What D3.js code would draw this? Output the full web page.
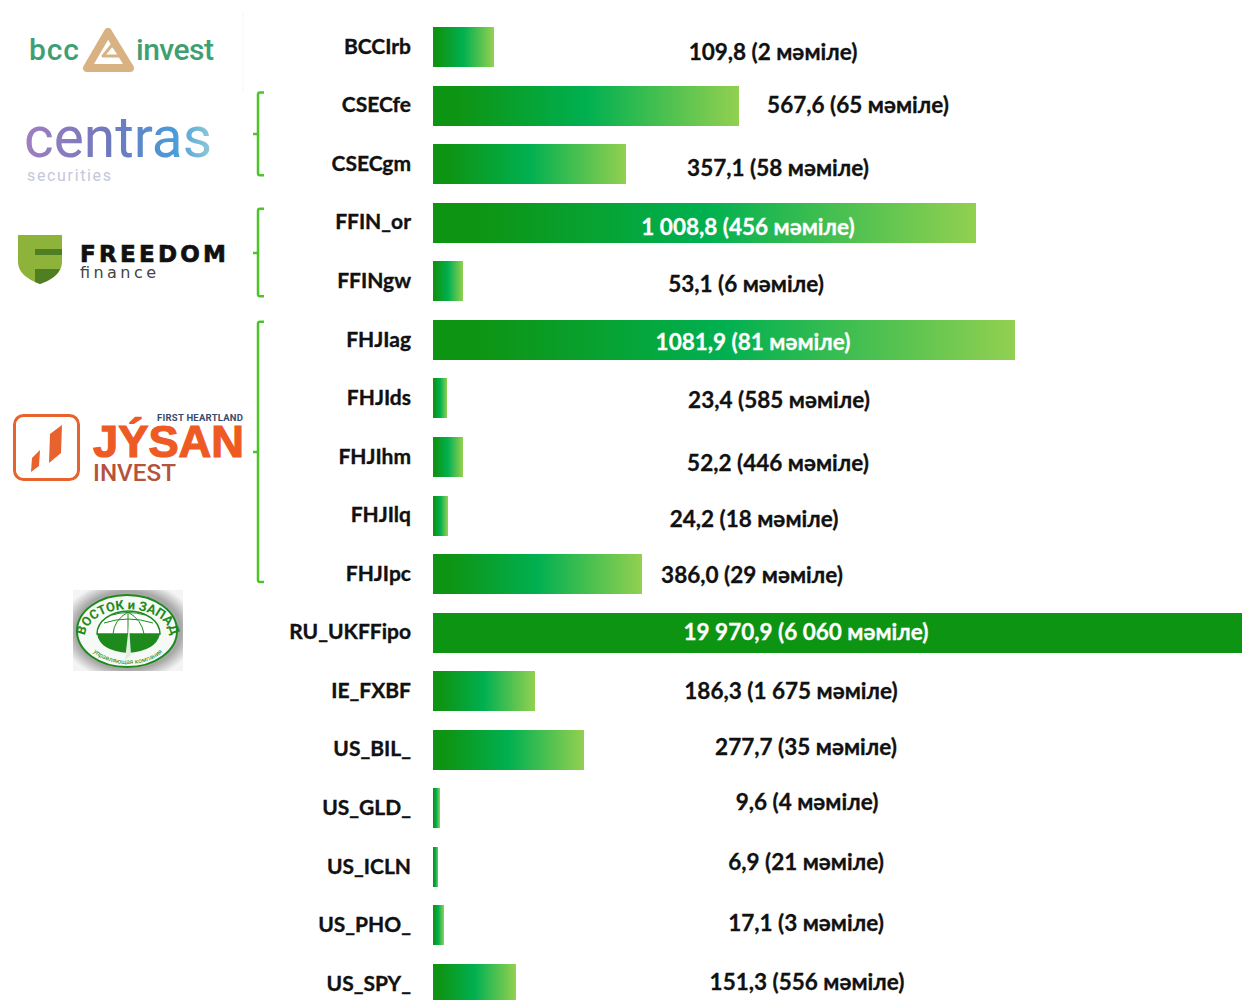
<!DOCTYPE html>
<html>
<head>
<meta charset="utf-8">
<script src="https://cdn.jsdelivr.net/npm/d3@7"></script>
<style>
  html, body { margin: 0; padding: 0; background: #fff; overflow: hidden; }
  text { font-family: Lato, "Noto Sans", sans-serif; }
</style>
</head>
<body>
<div id="chart"></div>
<script>
// Data
var tickers = ["BCCIrb", "CSECfe", "CSECgm", "FFIN_or", "FFINgw", "FHJIag", "FHJIds", "FHJIhm", "FHJIlq", "FHJIpc", "RU_UKFFipo", "IE_FXBF", "US_BIL_", "US_GLD_", "US_ICLN", "US_PHO_", "US_SPY_"];
var volumes = [109.8, 567.6, 357.1, 1008.8, 53.1, 1081.9, 23.4, 52.2, 24.2, 386.0, 19970.9, 186.3, 277.7, 9.6, 6.9, 17.1, 151.3];
var volumeLabels = ["109,8", "567,6", "357,1", "1 008,8", "53,1", "1081,9", "23,4", "52,2", "24,2", "386,0", "19 970,9", "186,3", "277,7", "9,6", "6,9", "17,1", "151,3"];
var deals = ["2", "65", "58", "456", "6", "81", "585", "446", "18", "29", "6 060", "1 675", "35", "4", "21", "3", "556"];

// the value labels were placed by hand in the original, so they do not follow the bars
var labelCentreX = [773, 858, 778, 748, 746, 753, 779, 778, 754, 752, 806, 791, 806, 807, 806, 806, 807];
var labelCentreY = [52, 105, 168, 227, 284, 342, 400, 463, 519, 575, 632, 691, 747, 802, 862, 923, 982];
var insideBar = ["FFIN_or", "FHJIag", "RU_UKFFipo"];

var width = 1243;
var height = 1000;

var svg = d3
  .select("#chart")
  .append("svg")
  .attr("width", width)
  .attr("height", height);

var defs = svg.append("defs");

// axis starts a little left of zero and stops near 1500, the big bar runs off the side of the plot
var x = d3.scaleLinear().domain([-3, 1505]).range([433, 1242]);
var y = d3
  .scaleBand()
  .domain(tickers)
  .range([27, 1004])
  .paddingInner(0.317);

defs
  .append("clipPath")
  .attr("id", "plot-clip")
  .append("rect")
  .attr("x", 433)
  .attr("y", 0)
  .attr("width", 809)
  .attr("height", height);

// one gradient per bar, stretched over the true length of that bar
volumes.forEach(function(v, i) {
  var g = defs
    .append("linearGradient")
    .attr("id", "bar-grad-" + i)
    .attr("gradientUnits", "userSpaceOnUse")
    .attr("x1", x.range()[0])
    .attr("x2", x(v))
    .attr("y1", 0)
    .attr("y2", 0);
  g.append("stop").attr("offset", "0%").attr("stop-color", "#0E9413");
  g.append("stop").attr("offset", "8%").attr("stop-color", "#0E9413");
  g.append("stop").attr("offset", "50%").attr("stop-color", "#00B050");
  g.append("stop").attr("offset", "100%").attr("stop-color", "#92D050");
});

svg
  .append("g")
  .attr("clip-path", "url(#plot-clip)")
  .selectAll("rect")
  .data(tickers)
  .enter()
  .append("rect")
  .attr("x", x.range()[0])
  .attr("y", function(d) {
    return Math.round(y(d));
  })
  .attr("width", function(d, i) {
    return Math.round(x(volumes[i]) - x.range()[0]);
  })
  .attr("height", 40)
  .attr("fill", function(d, i) {
    return "url(#bar-grad-" + i + ")";
  });

// category axis
var yAxis = svg
  .append("g")
  .attr("transform", "translate(422,0)")
  .call(d3.axisLeft(y).tickSize(0).tickPadding(11));
yAxis.select(".domain").remove();
yAxis
  .selectAll("text")
  .style("font-family", "Lato, 'Noto Sans', sans-serif")
  .style("font-size", "21px")
  .style("font-weight", "700")
  .attr("fill", "#111")
  .attr("stroke", "#111")
  .attr("stroke-width", 0.35);

// value labels
svg
  .append("g")
  .selectAll("text")
  .data(tickers)
  .enter()
  .append("text")
  .attr("x", function(d, i) {
    return labelCentreX[i];
  })
  .attr("y", function(d, i) {
    return labelCentreY[i];
  })
  .attr("dy", "0.35em")
  .attr("text-anchor", "middle")
  .attr("font-size", 22.5)
  .attr("font-weight", 700)
  .attr("stroke-width", 0.3)
  .attr("fill", function(d) {
    return insideBar.indexOf(d) >= 0 ? "#fff" : "#111";
  })
  .attr("stroke", function(d) {
    return insideBar.indexOf(d) >= 0 ? "#fff" : "#111";
  })
  .text(function(d, i) {
    return volumeLabels[i] + " (" + deals[i] + " мәміле)";
  });

// brackets that group tickers by broker
function bracket(first, last, topGap, bottomGap, mid) {
  var top = y(first) + topGap;
  var bottom = y(last) + 40 - bottomGap;
  svg
    .append("path")
    .attr("d", "M264," + top + "H260Q258," + top + " 258," + (top + 2) + "V" + (bottom - 2) + "Q258," + bottom + " 260," + bottom + "H264M253," + mid + "H258")
    .attr("fill", "none")
    .attr("stroke", "#4CC42A")
    .attr("stroke-width", 2.5);
}
bracket("CSECfe", "CSECgm", 7, 9, 134);
bracket("FFIN_or", "FFINgw", 6, 5, 253);
bracket("FHJIag", "FHJIpc", 2, 12, 452);

// logos, drawn by hand
var logos = svg.append("g");

// bcc invest
logos.append("line").attr("x1", 243).attr("x2", 243).attr("y1", 12).attr("y2", 92).attr("stroke", "#f6f6f6");
logos.append("text").attr("x", 29).attr("y", 60).attr("font-size", 30).attr("font-weight", 500).attr("fill", "#3F9F72").attr("textLength", 50).style("font-family", "Roboto").text("bcc");
logos.append("text").attr("x", 136).attr("y", 60).attr("font-size", 30).attr("font-weight", 500).attr("fill", "#3F9F72").attr("textLength", 78).style("font-family", "Roboto").text("invest");
logos.append("path").attr("d", "M108,32L87,68H130Z").attr("fill", "none").attr("stroke", "#D8B282").attr("stroke-width", 8).attr("stroke-linejoin", "round");
logos.append("path").attr("d", "M112,45L103,56H122Z").attr("fill", "none").attr("stroke", "#D8B282").attr("stroke-width", 3).attr("stroke-linejoin", "round");

// centras
var centrasGrad = defs.append("linearGradient").attr("id", "centras-grad");
centrasGrad.append("stop").attr("offset", "0%").attr("stop-color", "#A07FC0");
centrasGrad.append("stop").attr("offset", "45%").attr("stop-color", "#7078BC");
centrasGrad.append("stop").attr("offset", "80%").attr("stop-color", "#4A9BD8");
centrasGrad.append("stop").attr("offset", "100%").attr("stop-color", "#8FCBD8");
logos.append("text").attr("x", 24).attr("y", 157).attr("font-size", 58).attr("font-weight", 400).attr("fill", "url(#centras-grad)").attr("textLength", 188).attr("lengthAdjust", "spacingAndGlyphs").style("font-family", "Roboto").text("centras");
logos.append("text").attr("x", 27).attr("y", 181).attr("font-size", 16).attr("fill", "#C6C6DC").attr("textLength", 84).style("font-family", "Roboto").text("securities");

// freedom finance
logos.append("path").attr("d", "M18,235H62V262Q62,276 40,284Q18,276 18,262Z").attr("fill", "#8DB33A");
logos.append("path").attr("d", "M35,249H62V255H35Z").attr("fill", "#4F7F22");
logos.append("path").attr("d", "M35,269H60Q57,278 40,284L35,282Z").attr("fill", "#4F7F22");
logos.append("text").attr("x", 80).attr("y", 262).attr("font-size", 23).attr("font-weight", 700).attr("fill", "#111").attr("stroke", "#111").attr("stroke-width", 0.7).attr("textLength", 146).style("font-family", "DejaVu Sans").text("FREEDOM");
logos.append("text").attr("x", 80).attr("y", 278).attr("font-size", 16).attr("fill", "#444").attr("textLength", 76).style("font-family", "DejaVu Sans").text("finance");

// jysan invest
logos.append("rect").attr("x", 14.5).attr("y", 415.5).attr("width", 64).attr("height", 64).attr("rx", 9).attr("fill", "none").attr("stroke", "#E8622D").attr("stroke-width", 3);
logos.append("path").attr("d", "M32,458L40,450L39,466L31,472Z").attr("fill", "#E8622D");
logos.append("path").attr("d", "M50,434L62,425L61,453L49,463Z").attr("fill", "#E8622D");
logos.append("text").attr("x", 157).attr("y", 421).attr("font-size", 9.5).attr("font-weight", 700).attr("fill", "#3A4A6B").attr("textLength", 86).style("font-family", "Roboto").text("FIRST  HEARTLAND");
logos.append("text").attr("x", 93).attr("y", 457).attr("font-size", 44).attr("font-weight", 700).attr("fill", "#EE5A24").attr("stroke", "#EE5A24").attr("stroke-width", 1.2).attr("textLength", 151).attr("lengthAdjust", "spacingAndGlyphs").style("font-family", "Liberation Sans").text("JÝSAN");
logos.append("text").attr("x", 93).attr("y", 481).attr("font-size", 23).attr("font-weight", 500).attr("fill", "#B5533C").attr("textLength", 83).attr("lengthAdjust", "spacingAndGlyphs").style("font-family", "Roboto").text("INVEST");

// vostok-zapad seal
var sealGrad = defs.append("radialGradient").attr("id", "seal-bg").attr("r", "0.62");
sealGrad.append("stop").attr("offset", "78%").attr("stop-color", "#a8a8a8");
sealGrad.append("stop").attr("offset", "100%").attr("stop-color", "#f4f4f4");
logos.append("rect").attr("x", 73).attr("y", 590).attr("width", 110).attr("height", 81).attr("fill", "url(#seal-bg)");
logos.append("ellipse").attr("cx", 127).attr("cy", 631).attr("rx", 50).attr("ry", 36).attr("fill", "#f6faf6").attr("stroke", "#1E8A1E").attr("stroke-width", 2);
logos.append("path").attr("d", "M97,634A30,22 0 0 1 160,634Z").attr("fill", "#fff").attr("stroke", "#1E8A1E").attr("stroke-width", 1.5);
logos.append("path").attr("d", "M97,634H160Q156,651 128,653Q100,651 97,634Z").attr("fill", "#1E8A1E");
logos.append("path").attr("d", "M104,623Q128,615 153,623M112,615Q128,610 145,615M113,634Q114,620 128,612Q142,620 144,634M128,612V634").attr("fill", "none").attr("stroke", "#1E8A1E").attr("stroke-width", 1);
logos.append("path").attr("d", "M125,660L129,625L131,655Z").attr("fill", "#dfeedd");
defs.append("path").attr("id", "seal-top").attr("d", "M85,637A42,27 0 0 1 171,637");
defs.append("path").attr("id", "seal-bottom").attr("d", "M88,640A40,24 0 0 0 168,640");
logos.append("text").attr("font-size", 13).attr("font-weight", 700).attr("fill", "#1E8A1E").style("font-family", "Roboto")
  .append("textPath").attr("href", "#seal-top").attr("startOffset", "50%").attr("text-anchor", "middle").text("ВОСТОК и ЗАПАД");
logos.append("text").attr("font-size", 6.5).attr("fill", "#1E8A1E").style("font-family", "Roboto")
  .append("textPath").attr("href", "#seal-bottom").attr("startOffset", "50%").attr("text-anchor", "middle").text("управляющая компания");
</script>
</body>
</html>
